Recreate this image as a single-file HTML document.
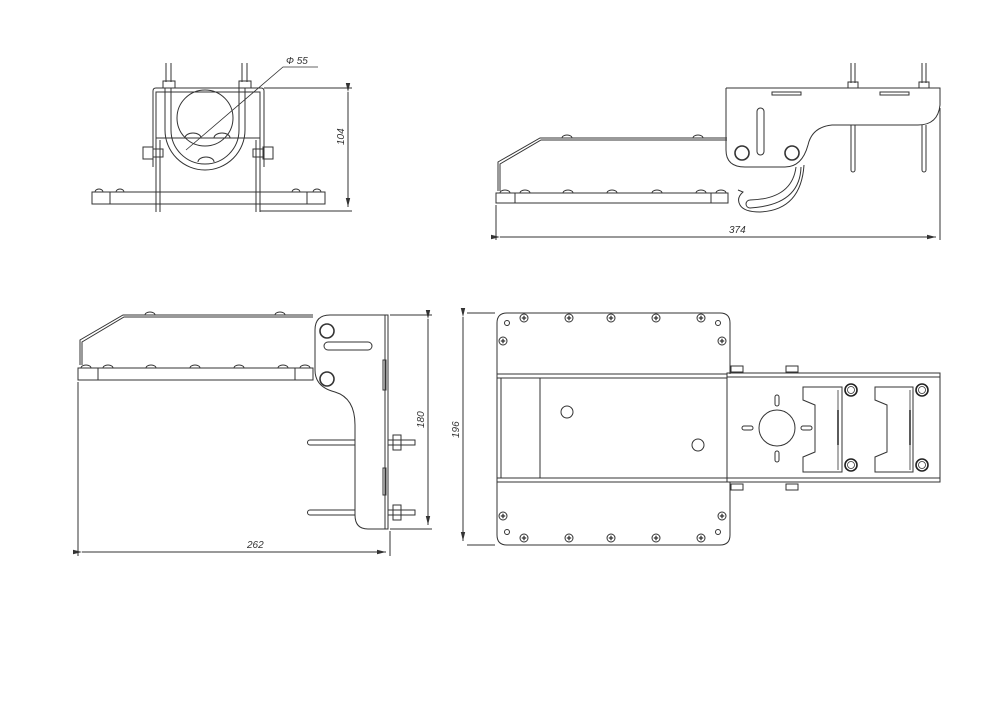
<!DOCTYPE html>
<html><head><meta charset="utf-8"><style>
html,body{margin:0;padding:0;background:#fff}
svg{display:block}
text{font-family:"Liberation Sans",sans-serif;font-size:10px;fill:#333;font-style:italic}
</style></head><body>
<svg width="1000" height="707" viewBox="0 0 1000 707" xmlns="http://www.w3.org/2000/svg">
<defs>
<marker id="ar" markerWidth="10" markerHeight="6" refX="9" refY="3" orient="auto"><path d="M0,0.8 L9,3 L0,5.2 z" fill="#333"/></marker>
<g id="scr"><circle r="4" fill="none" stroke="#333" stroke-width="1"/><path d="M-2.2,0H2.2M0,-2.2V2.2" stroke="#333" stroke-width="1.3"/></g>
<g id="nut"><circle r="6" fill="none" stroke="#222" stroke-width="1.6"/><circle r="3.5" fill="none" stroke="#333" stroke-width="0.8"/></g>
</defs>
<g fill="none" stroke="#333" stroke-width="1">
<!-- VIEW 1 -->
<rect x="92" y="192" width="233" height="12"/>
<path d="M110,192V204M307,192V204"/>
<path d="M95,192a4,3 0 0 1 8,0M116,192a4,3 0 0 1 8,0M292,192a4,3 0 0 1 8,0M313,192a4,3 0 0 1 8,0"/>
<path d="M153,167V91q0,-3 3,-3H261q3,0 3,3V167"/>
<path d="M156,167V92H260V167"/>
<path d="M156,138H260M156,140V212M160,140V212M260,138V212M256,140V212"/>
<circle cx="205" cy="118" r="28"/>
<path d="M165,88V130a40,40 0 0 0 80,0V88M171,88V130a34,34 0 0 0 68,0V88"/>
<path d="M166,63V82M171,63V82M242,63V82M247,63V82"/>
<rect x="163" y="81" width="12" height="7"/><rect x="239" y="81" width="12" height="7"/>
<rect x="143" y="147" width="10" height="12"/><rect x="153" y="149" width="10" height="8"/>
<rect x="263" y="147" width="10" height="12"/><rect x="253" y="149" width="10" height="8"/>
<path d="M185,138a8,5 0 0 1 16,0M214,138a8,5 0 0 1 16,0M198,162a8,5 0 0 1 16,0"/>
<path d="M264,88H352M260,211H352"/>
<path d="M348,92V207" marker-start="url(#ar)" marker-end="url(#ar)"/>
<path d="M186,150L283,67H318" stroke-width="0.8"/>
<!-- VIEW 2 -->
<rect x="496" y="193" width="232" height="10"/>
<path d="M515,193V203M711,193V203"/>
<path d="M500,193a5,3 0 0 1 10,0M520,193a5,3 0 0 1 10,0M563,193a5,3 0 0 1 10,0M607,193a5,3 0 0 1 10,0M652,193a5,3 0 0 1 10,0M696,193a5,3 0 0 1 10,0M716,193a5,3 0 0 1 10,0M562,138a5,3 0 0 1 10,0M693,138a5,3 0 0 1 10,0"/>
<path d="M727,138H540L498,162V191M727,140H541L500,164V191"/>
<path d="M726,88H940V105Q938,125 918,125H832Q812,127 808,145Q802,167 785,167H745Q726,167 726,150V88"/>
<rect x="772" y="92" width="29" height="3"/><rect x="880" y="92" width="29" height="3"/>
<rect x="757" y="108" width="7" height="47" rx="3.5"/>
<circle cx="742" cy="153" r="7" stroke-width="1.6"/><circle cx="792" cy="153" r="7" stroke-width="1.6"/>
<path d="M804,165Q801,210 760,212Q744,212 740,205Q736,198 743,192L738,190"/>
<path d="M796,167Q792,199 750,200A4,4 0 0 0 750,208Q800,205 801,167"/>
<path d="M851,63V83M855,63V83M922,63V83M926,63V83"/>
<rect x="848" y="82" width="10" height="6"/><rect x="919" y="82" width="10" height="6"/>
<path d="M851,125V170a2,2 0 0 0 4,0V125M922,125V170a2,2 0 0 0 4,0V125"/>
<path d="M496,205V240M940,108V240"/>
<path d="M500,237H936" marker-start="url(#ar)" marker-end="url(#ar)"/>
<!-- VIEW 3 -->
<path d="M313,315H123L80,340V365M313,317H124L82,342V365"/>
<rect x="78" y="368" width="235" height="12"/>
<path d="M98,368V380M295,368V380"/>
<path d="M81,368a5,3 0 0 1 10,0M103,368a5,3 0 0 1 10,0M146,368a5,3 0 0 1 10,0M190,368a5,3 0 0 1 10,0M234,368a5,3 0 0 1 10,0M278,368a5,3 0 0 1 10,0M300,368a5,3 0 0 1 10,0M145,315a5,3 0 0 1 10,0M275,315a5,3 0 0 1 10,0"/>
<path d="M330,315H388V529H368Q355,529 355,515V425Q355,398 335,392Q315,387 315,370V330Q315,315 330,315"/>
<path d="M385,315V529"/>
<circle cx="327" cy="331" r="7" stroke-width="1.6"/><circle cx="327" cy="379" r="7" stroke-width="1.6"/>
<rect x="324" y="342" width="48" height="8" rx="4"/>
<rect x="383" y="360" width="3" height="30"/><rect x="383" y="468" width="3" height="27"/>
<path d="M355,440H310a2,2 0 0 0 0,5H355M355,510H310a2,2 0 0 0 0,5H355"/>
<path d="M388,440H415V445H388M388,510H415V515H388"/>
<rect x="393" y="435" width="8" height="15"/><rect x="393" y="505" width="8" height="15"/>
<path d="M390,315H432M390,529H432M78,382V556M390,531V556"/>
<path d="M428,319V525" marker-start="url(#ar)" marker-end="url(#ar)"/>
<path d="M82,552H386" marker-start="url(#ar)" marker-end="url(#ar)"/>
<!-- VIEW 4 -->
<path d="M497,374V323Q497,313 507,313H720Q730,313 730,323V374"/>
<path d="M497,482V535Q497,545 507,545H720Q730,545 730,535V482"/>
<path d="M497,374H727M497,378H727M497,482H727M497,478H727M497,374V482M501,378V478M540,378V478"/>
<rect x="727" y="373" width="213" height="109"/>
<path d="M727,377H940M727,478H940"/>
<circle cx="777" cy="428" r="18"/>
<rect x="775" y="395" width="4" height="11" rx="2"/><rect x="775" y="451" width="4" height="11" rx="2"/>
<rect x="742" y="426" width="11" height="4" rx="2"/><rect x="801" y="426" width="11" height="4" rx="2"/>
<path d="M803,387H842V472H803V457L815,452V405L803,400Z"/>
<path d="M875,387H913V472H875V457L887,452V405L875,400Z"/>
<path d="M838,390V470M910,390V470" stroke-width="0.8"/>
<path d="M838,410V445M910,410V445" stroke-width="1.6"/>
<circle cx="567" cy="412" r="6"/><circle cx="698" cy="445" r="6"/>
<rect x="731" y="366" width="12" height="6"/><rect x="786" y="366" width="12" height="6"/>
<rect x="731" y="484" width="12" height="6"/><rect x="786" y="484" width="12" height="6"/>
<circle cx="507" cy="323" r="2.5"/><circle cx="718" cy="323" r="2.5"/><circle cx="507" cy="532" r="2.5"/><circle cx="718" cy="532" r="2.5"/>
<path d="M495,313H467M495,545H467"/>
<path d="M463,317V541" marker-start="url(#ar)" marker-end="url(#ar)"/>
</g>
<g>
<use href="#scr" x="524" y="318"/><use href="#scr" x="569" y="318"/><use href="#scr" x="611" y="318"/><use href="#scr" x="656" y="318"/><use href="#scr" x="701" y="318"/>
<use href="#scr" x="503" y="341"/><use href="#scr" x="722" y="341"/>
<use href="#scr" x="524" y="538"/><use href="#scr" x="569" y="538"/><use href="#scr" x="611" y="538"/><use href="#scr" x="656" y="538"/><use href="#scr" x="701" y="538"/>
<use href="#scr" x="503" y="516"/><use href="#scr" x="722" y="516"/>
<use href="#nut" x="851" y="390"/><use href="#nut" x="851" y="465"/><use href="#nut" x="922" y="390"/><use href="#nut" x="922" y="465"/>
</g>
<text x="286" y="64">Ф 55</text>
<text x="0" y="0" transform="translate(344,145) rotate(-90)">104</text>
<text x="729" y="233">374</text>
<text x="0" y="0" transform="translate(424,428) rotate(-90)">180</text>
<text x="247" y="548">262</text>
<text x="0" y="0" transform="translate(459,438) rotate(-90)">196</text>
</svg>
</body></html>
